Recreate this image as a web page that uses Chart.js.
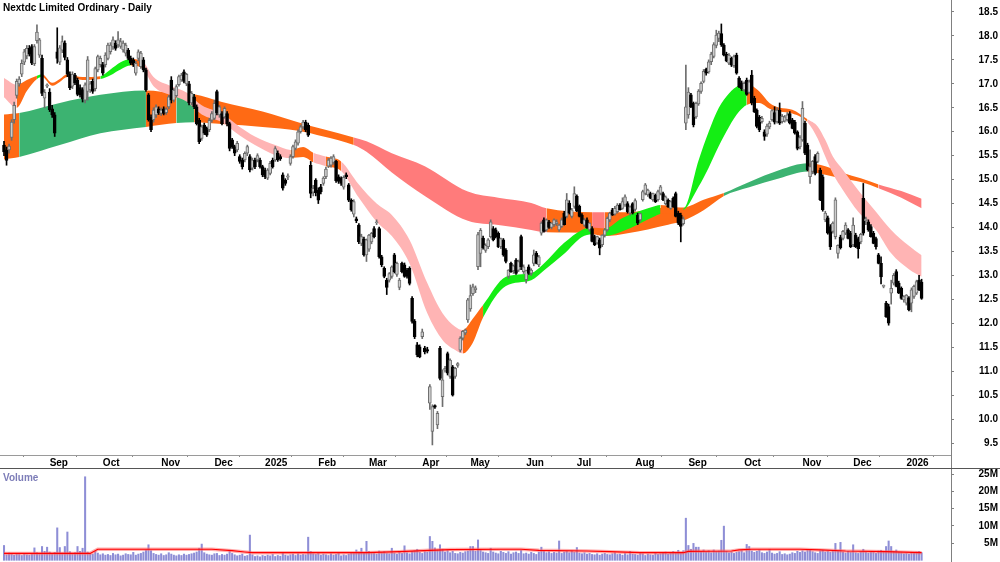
<!DOCTYPE html>
<html>
<head>
<meta charset="utf-8">
<script src="https://cdn.jsdelivr.net/npm/chart.js@4.4.1/dist/chart.umd.min.js"></script>
<style>
  body { margin: 0; background: #fff; width: 1000px; height: 562px; overflow: hidden; position: relative; font-family: "Liberation Sans", Arial, sans-serif; }
  .wrap { position: absolute; left: 0; width: 1000px; }
  .lbl { position: absolute; font-weight: bold; font-size: 10px; line-height: 12px; white-space: nowrap; }
</style>
</head>
<body>
<div class="wrap" style="top:0;height:469px"><canvas id="priceChart"></canvas></div>
<div class="wrap" style="top:469px;height:93px"><canvas id="volChart"></canvas></div>
<div class="lbl" style="left:3px;top:2px;color:#000">Nextdc Limited Ordinary - Daily</div>
<div class="lbl" style="left:3px;top:472px;color:#7d7db8">Volume</div>
<script>
// trading-day index axis: 0 = 7 Aug 2024, last = 9 Jan 2026
const monthStarts = [18, 39, 62, 83, 103, 124, 144, 165, 184, 206, 226, 249, 270, 292, 315, 335, 356];
const monthLabels = ['Sep', 'Oct', 'Nov', 'Dec', '2025', 'Feb', 'Mar', 'Apr', 'May', 'Jun', 'Jul', 'Aug', 'Sep', 'Oct', 'Nov', 'Dec', '2026'];
const priceTicks = [9.5, 10, 10.5, 11, 11.5, 12, 12.5, 13, 13.5, 14, 14.5, 15, 15.5, 16, 16.5, 17, 17.5, 18, 18.5];
const volTicks = [5, 10, 15, 20, 25];

// [open, high, low, close]
const ohlc = [
[15.72,15.80,15.50,15.58],[15.62,15.68,15.30,15.40],[15.62,15.74,15.55,15.70],[15.88,16.25,15.82,16.20],[16.25,16.62,16.18,16.55],[16.76,17.10,16.70,17.05],[17.00,17.15,16.95,17.10],[17.20,17.50,17.15,17.43],[17.45,17.72,17.40,17.67],[17.58,17.80,17.52,17.74],
[17.74,17.80,17.58,17.62],[17.78,17.82,17.40,17.43],[17.42,17.82,17.38,17.78],[17.90,18.23,17.85,18.08],[17.60,17.95,17.55,17.92],[17.53,17.60,16.75,16.80],[16.70,16.88,16.50,16.82],[16.95,17.00,16.92,16.98],[16.83,16.90,16.42,16.46],[16.48,16.55,16.30,16.35],
[16.35,16.40,15.90,15.97],[17.67,18.17,17.43,17.53],[17.45,17.80,17.40,17.75],[17.70,18.00,17.65,17.88],[17.85,17.90,17.50,17.55],[17.50,17.55,17.15,17.20],[17.20,17.25,16.88,16.92],[16.95,17.25,16.90,17.20],[17.18,17.22,16.98,17.02],[17.08,17.12,16.75,16.78],
[16.92,16.98,16.72,16.77],[16.88,16.92,16.62,16.68],[16.66,17.02,16.60,16.98],[16.84,17.57,16.66,17.50],[16.87,17.05,16.82,17.00],[17.05,17.10,16.80,16.84],[16.90,17.35,16.85,17.32],[17.29,17.60,17.25,17.57],[17.40,17.58,17.35,17.53],[17.40,17.45,17.18,17.22],
[17.40,17.65,17.35,17.60],[17.53,17.85,17.50,17.81],[17.67,17.86,17.62,17.81],[17.77,17.98,17.72,17.92],[17.85,17.90,17.70,17.74],[17.81,18.09,17.76,17.92],[17.78,17.95,17.74,17.88],[17.71,17.90,17.66,17.85],[17.64,17.85,17.58,17.81],[17.70,17.74,17.50,17.53],
[17.53,17.58,17.40,17.43],[17.50,17.54,17.36,17.40],[17.22,17.47,17.18,17.43],[17.53,17.71,17.48,17.67],[17.36,17.68,17.32,17.64],[17.50,17.55,17.25,17.29],[17.29,17.33,16.84,16.87],[16.77,16.80,16.22,16.25],[16.30,16.35,16.00,16.04],[16.25,16.50,16.20,16.45],
[16.35,16.56,16.30,16.52],[16.48,16.52,16.36,16.40],[16.38,16.50,16.34,16.45],[16.48,16.52,16.35,16.38],[16.40,16.50,16.36,16.47],[16.52,16.76,16.48,16.73],[17.08,17.15,16.60,16.66],[16.66,16.90,16.62,16.87],[16.75,16.98,16.72,16.94],[16.98,17.18,16.95,17.15],
[17.08,17.22,17.05,17.18],[17.25,17.29,17.02,17.05],[17.00,17.22,16.96,17.20],[17.00,17.05,16.56,16.60],[16.60,16.84,16.56,16.80],[16.73,16.78,16.48,16.52],[16.52,16.56,16.14,16.17],[16.24,16.28,15.75,15.79],[15.86,16.14,15.82,16.10],[16.14,16.18,15.94,15.97],
[16.07,16.10,15.90,15.93],[16.04,16.28,16.00,16.24],[16.24,16.42,16.20,16.38],[16.28,16.66,16.25,16.59],[16.84,16.87,16.35,16.39],[16.35,16.55,16.30,16.52],[16.38,16.42,16.14,16.17],[16.31,16.52,16.28,16.49],[16.38,16.42,16.12,16.17],[16.17,16.20,15.60,15.65],
[15.83,15.86,15.65,15.69],[15.69,15.72,15.50,15.55],[15.62,15.80,15.58,15.76],[15.48,15.52,15.34,15.38],[15.41,15.45,15.22,15.27],[15.41,15.58,15.37,15.55],[15.55,15.72,15.50,15.69],[15.48,15.52,15.16,15.20],[15.24,15.45,15.20,15.41],[15.41,15.45,15.23,15.27],
[15.41,15.54,15.37,15.50],[15.41,15.45,15.24,15.27],[15.27,15.30,15.06,15.10],[15.20,15.24,15.02,15.06],[15.03,15.23,15.00,15.20],[15.13,15.38,15.10,15.34],[15.41,15.45,15.24,15.27],[15.41,15.69,15.38,15.65],[15.55,15.60,15.38,15.41],[15.48,15.52,15.40,15.43],
[15.10,15.14,14.78,14.82],[14.99,15.02,14.88,14.92],[15.05,15.12,15.00,15.08],[15.34,15.52,15.30,15.48],[15.48,15.72,15.45,15.69],[15.65,15.83,15.62,15.79],[15.76,16.04,15.72,16.00],[16.00,16.14,15.97,16.10],[16.10,16.24,16.06,16.20],[16.20,16.24,16.00,16.04],
[16.14,16.18,15.90,15.93],[15.30,15.38,14.62,14.71],[14.74,14.88,14.66,14.82],[14.99,15.02,14.66,14.72],[14.78,14.83,14.50,14.57],[14.85,14.90,14.70,14.75],[14.92,15.06,14.88,15.03],[15.06,15.26,15.02,15.22],[15.28,15.44,15.25,15.41],[15.30,15.48,15.26,15.45],
[15.36,15.52,15.32,15.48],[15.38,15.40,14.94,14.98],[15.06,15.10,14.92,14.96],[15.03,15.06,14.88,14.92],[14.84,15.08,14.80,15.05],[15.10,15.14,15.02,15.06],[14.89,14.92,14.54,14.57],[14.57,14.60,14.34,14.37],[14.28,14.58,14.22,14.54],[14.18,14.22,14.10,14.14],
[14.05,14.08,13.66,13.70],[13.67,13.86,13.62,13.81],[13.76,13.80,13.40,13.43],[13.43,13.76,13.29,13.74],[13.55,13.86,13.50,13.84],[13.70,13.90,13.66,13.88],[13.98,14.02,13.78,13.81],[14.10,14.16,14.06,14.12],[13.98,14.01,13.36,13.39],[13.39,13.42,13.18,13.22],
[13.15,13.18,12.95,12.98],[12.90,12.94,12.60,12.75],[12.90,13.06,12.86,13.04],[12.98,13.20,12.94,13.18],[13.43,13.46,13.05,13.08],[13.02,13.28,12.98,13.25],[12.75,12.94,12.70,12.90],[13.25,13.28,13.05,13.08],[13.22,13.26,12.96,12.98],[13.11,13.15,12.94,12.98],
[13.15,13.18,12.80,12.83],[12.52,12.56,12.00,12.04],[12.04,12.08,11.68,11.72],[11.55,11.60,11.30,11.34],[11.51,11.55,11.28,11.30],[11.72,11.88,11.68,11.82],[11.48,11.52,11.36,11.40],[11.45,11.50,11.38,11.42],[10.33,10.72,10.20,10.68],[9.74,10.30,9.46,10.26],
[10.28,10.30,10.22,10.25],[9.88,10.16,9.80,10.12],[11.48,11.52,10.82,10.85],[10.47,11.03,10.26,10.82],[11.02,11.10,10.98,11.06],[11.37,11.40,10.92,10.96],[10.89,11.26,10.85,11.23],[11.09,11.12,10.48,10.50],[10.89,11.08,10.85,11.06],[11.12,11.18,11.08,11.16],
[11.44,11.72,11.40,11.69],[11.69,11.85,11.65,11.83],[11.80,11.88,11.76,11.86],[12.07,12.52,12.02,12.49],[12.30,12.80,12.25,12.58],[12.62,12.82,12.58,12.76],[12.70,12.78,12.64,12.74],[13.18,13.90,13.12,13.85],[13.46,13.98,13.18,13.94],[13.78,13.82,13.55,13.58],
[13.52,13.66,13.48,13.63],[13.60,13.77,13.56,13.74],[13.81,14.16,13.78,14.12],[13.98,14.02,13.72,13.74],[13.95,13.99,13.78,13.81],[13.88,13.91,13.58,13.60],[13.60,13.78,13.56,13.77],[13.74,13.77,13.40,13.43],[13.53,13.56,13.26,13.29],[12.98,13.12,12.94,13.11],
[13.25,13.28,13.06,13.08],[13.10,13.22,13.04,13.20],[13.32,13.35,13.02,13.04],[13.11,13.32,13.08,13.29],[13.81,13.84,13.12,13.18],[13.08,13.22,13.04,13.18],[12.91,13.11,12.84,13.10],[13.18,13.22,13.02,13.04],[13.04,13.14,13.00,13.11],[13.25,13.53,13.20,13.43],
[13.46,13.50,13.24,13.25],[13.22,13.42,13.18,13.39],[13.88,14.12,13.84,14.09],[14.16,14.20,13.90,13.92],[13.95,14.18,13.92,14.16],[14.12,14.15,13.98,14.00],[14.00,14.10,13.97,14.09],[14.06,14.18,14.02,14.16],[14.08,14.16,14.04,14.12],[13.95,14.07,13.92,14.05],
[14.02,14.20,14.00,14.16],[14.30,14.34,14.05,14.06],[14.23,14.71,14.20,14.58],[14.51,14.56,14.28,14.30],[14.23,14.40,14.20,14.37],[14.44,14.85,14.40,14.71],[14.65,14.68,14.33,14.34],[14.44,14.47,14.22,14.23],[14.26,14.29,14.08,14.09],[14.05,14.19,14.02,14.16],
[14.16,14.20,13.98,13.99],[13.95,14.10,13.92,14.09],[13.98,14.02,13.70,13.71],[13.81,13.84,13.62,13.64],[13.68,13.82,13.65,13.81],[13.74,13.78,13.43,13.57],[13.64,13.85,13.60,13.84],[13.84,13.98,13.80,13.95],[13.95,14.22,13.92,14.19],[14.16,14.32,14.12,14.30],
[14.37,14.40,14.25,14.26],[14.28,14.44,14.26,14.40],[14.33,14.50,14.30,14.47],[14.47,14.50,14.36,14.37],[14.40,14.62,14.38,14.54],[14.47,14.68,14.44,14.64],[14.50,14.54,14.30,14.33],[14.30,14.45,14.26,14.43],[14.50,14.52,14.28,14.30],[14.38,14.60,14.34,14.56],
[14.26,14.30,14.06,14.09],[14.16,14.30,14.12,14.29],[14.58,14.78,14.55,14.75],[14.71,14.92,14.68,14.89],[14.68,14.80,14.65,14.78],[14.71,14.74,14.60,14.61],[14.58,14.72,14.55,14.71],[14.67,14.70,14.52,14.54],[14.58,14.78,14.55,14.75],[14.71,14.88,14.68,14.85],
[14.71,14.74,14.56,14.58],[14.50,14.66,14.47,14.64],[14.57,14.60,14.42,14.43],[14.40,14.56,14.38,14.54],[14.61,14.64,14.42,14.43],[14.71,14.74,14.22,14.23],[14.30,14.34,14.06,14.09],[14.26,14.30,13.70,14.02],[14.08,14.22,14.05,14.18],[16.18,17.39,16.04,16.52],
[16.35,16.92,16.28,16.83],[16.77,16.80,16.50,16.52],[16.59,16.62,16.10,16.14],[16.31,16.62,16.28,16.59],[16.58,16.88,16.55,16.85],[16.84,17.04,16.80,17.01],[17.05,17.30,17.02,17.26],[17.30,17.33,17.18,17.22],[17.25,17.50,17.22,17.46],[17.46,17.66,17.40,17.62],
[17.57,17.86,17.54,17.82],[17.80,18.12,17.75,18.02],[17.95,18.10,17.88,18.06],[18.05,18.25,17.78,17.81],[17.81,17.84,17.58,17.60],[17.62,17.66,17.46,17.48],[17.43,17.63,17.40,17.60],[17.53,17.56,17.36,17.39],[17.38,17.60,17.34,17.57],[17.60,17.64,17.20,17.22],
[17.12,17.15,16.92,16.94],[17.02,17.06,16.86,16.90],[16.87,17.04,16.84,17.01],[17.08,17.12,16.76,16.78],[16.82,17.08,16.80,17.04],[17.18,17.28,16.56,16.60],[16.70,16.74,16.40,16.42],[16.45,16.48,16.08,16.11],[16.30,16.34,16.00,16.04],[16.21,16.32,16.18,16.28],
[16.00,16.04,15.82,15.90],[15.95,16.16,15.90,16.12],[16.10,16.22,16.06,16.18],[16.25,16.46,16.22,16.44],[16.40,16.52,16.16,16.20],[16.21,16.50,16.18,16.45],[16.45,16.60,16.15,16.18],[16.21,16.36,16.18,16.32],[16.22,16.34,16.20,16.31],[16.25,16.40,16.22,16.35],
[16.38,16.42,16.16,16.18],[16.25,16.28,16.06,16.07],[16.20,16.24,15.95,15.97],[16.00,16.02,15.62,15.65],[15.68,15.92,15.64,15.88],[15.83,16.63,15.80,16.49],[16.18,16.22,15.52,15.55],[15.72,15.76,15.18,15.20],[15.06,15.62,14.92,15.27],[15.17,15.40,15.12,15.38],
[15.48,15.52,15.10,15.13],[15.38,15.58,15.35,15.55],[15.20,15.24,14.56,14.58],[15.06,15.10,14.34,14.37],[14.16,14.34,14.12,14.30],[14.20,14.24,13.86,13.88],[14.02,14.06,13.54,13.60],[13.92,14.12,13.88,14.09],[13.81,14.62,13.76,14.58],[13.46,13.64,13.36,13.63],
[13.80,13.84,13.55,13.58],[13.77,13.94,13.74,13.92],[13.88,14.10,13.85,14.05],[13.95,13.98,13.76,13.77],[13.88,13.92,13.58,13.60],[13.64,14.20,13.60,14.05],[13.84,13.88,13.58,13.60],[13.77,13.80,13.36,13.56],[13.70,13.88,13.66,13.86],[14.61,14.92,13.84,13.88],
[14.14,14.22,14.06,14.18],[14.12,14.16,13.92,13.95],[14.02,14.06,13.80,13.81],[13.88,13.92,13.66,13.67],[13.77,13.80,13.55,13.60],[13.43,13.46,13.24,13.25],[13.25,13.39,12.82,12.97],[12.77,12.80,12.74,12.78],[12.42,12.46,12.12,12.14],[12.35,12.40,11.96,12.00],
[12.63,12.90,12.40,12.73],[12.84,13.04,12.80,13.00],[13.08,13.12,12.76,12.77],[12.84,12.88,12.62,12.63],[12.73,12.76,12.50,12.52],[12.49,12.58,12.44,12.56],[12.42,12.60,12.38,12.59],[12.53,12.56,12.26,12.28],[12.42,12.74,12.24,12.70],[12.56,12.80,12.52,12.77],
[12.63,12.90,12.60,12.87],[12.90,13.00,12.68,12.70],[12.86,12.92,12.50,12.52]
];

// volume, millions
const volume = [
4.3,1.6,2.1,1.8,1.5,2.0,1.7,1.4,1.9,1.6, 1.5,1.8,3.6,2.2,1.7,4.0,2.6,3.8,2.4,1.9,
2.3,9.4,3.7,2.1,4.0,8.2,2.5,1.8,2.2,4.0, 2.6,3.5,24.2,2.4,2.0,1.8,2.6,2.1,1.6,1.9,
1.5,1.7,1.4,2.0,1.6,1.8,1.3,1.5,1.9,1.7, 1.6,2.3,1.5,1.8,2.0,2.4,3.0,4.5,2.8,2.0,
1.7,1.5,1.9,1.4,1.6,2.2,1.8,1.5,1.3,1.6, 1.4,1.8,1.5,1.7,1.9,2.1,2.4,3.5,4.7,2.2,
1.8,1.6,1.5,1.9,2.0,1.4,1.7,1.5,1.8,2.6, 2.0,1.6,1.3,1.5,1.8,1.2,1.4,7.3,1.6,1.1,
1.3,1.0,1.4,1.2,1.5,1.3,1.7,1.1,1.4,1.2, 2.1,1.5,1.3,1.6,1.8,1.4,1.9,1.5,1.7,1.6,
6.7,2.6,1.9,1.7,2.0,1.5,1.8,1.6,1.4,1.9, 1.5,1.7,2.0,1.3,1.6,1.4,1.8,2.2,2.0,3.0,
2.4,3.5,2.1,5.5,2.6,2.0,2.3,1.8,2.7,2.2, 2.5,2.0,1.9,3.5,2.1,1.8,2.4,2.0,4.2,2.2,
1.9,2.6,2.8,3.2,2.3,2.0,2.5,2.4,6.9,5.5, 3.6,3.0,4.5,3.2,2.4,2.8,2.2,2.6,2.0,1.9,
2.3,2.1,2.5,2.7,4.0,4.0,2.6,5.9,3.1,2.4, 2.2,2.0,3.5,2.4,2.1,1.9,2.6,2.3,2.0,2.5,
1.8,2.2,2.4,2.0,2.9,1.9,2.1,1.8,2.3,2.0, 1.7,2.4,3.8,2.6,2.2,2.5,2.0,2.3,2.1,5.6,
2.0,2.4,2.6,2.2,2.7,2.3,3.7,2.1,1.9,2.2, 1.8,2.0,1.7,1.6,1.9,1.5,1.8,2.0,1.7,1.6,
1.9,2.2,1.7,1.8,1.5,2.0,1.6,2.6,1.8,1.7, 1.5,2.0,1.9,1.4,1.8,1.6,1.5,2.1,1.7,1.9,
2.2,2.4,1.8,2.0,2.6,2.3,2.9,2.2,2.8,12.2, 4.3,3.2,4.9,3.8,3.8,2.6,3.0,2.4,2.8,2.2,
3.0,2.5,2.7,5.8,9.9,2.6,2.2,2.4,2.0,2.3, 2.5,2.8,2.2,4.6,4.0,2.7,2.3,2.6,3.0,2.2,
2.0,2.4,3.2,2.1,1.8,2.0,2.5,1.7,1.9,1.6, 1.8,2.2,2.0,2.6,2.3,2.8,2.4,2.9,3.0,2.5,
2.2,2.0,2.7,2.9,2.4,2.6,2.3,2.8,4.9,2.6, 5.2,2.4,2.1,2.6,2.3,4.5,2.2,2.0,2.5,3.2,
2.4,2.1,2.3,2.6,2.0,2.7,2.9,2.4,4.0,5.6, 4.0,2.6,3.0,2.4,2.2,1.9,2.0,1.8,2.3,2.1,
2.4,2.6,2.2
];

// volume average line
const vmaX = [0, 34, 37, 82, 90, 95, 98, 143, 156, 168, 176, 196, 204, 211, 230, 239, 251, 268, 270, 287, 290, 295, 314, 322, 332, 348, 362];
const vmaY = [2.0, 2.0, 3.2, 3.2, 2.8, 2.4, 2.2, 2.2, 2.5, 2.9, 3.1, 3.2, 3.2, 2.9, 2.7, 2.5, 2.2, 2.2, 2.6, 2.7, 3.0, 3.2, 3.2, 3.0, 2.7, 2.5, 2.2];

const PINK = '#ffb4b4', ORANGE = '#ff6a14', LIME = '#14ee14', SEA = '#3cb371', SALMON = '#ff7b7b';

// short-term ribbon edges
const shortX = [0,5,9,13,15,19,22,25,31,38,42,46,50,55,59,66,72,78,86,93,99,107,113,118,122,127,133,140,147,153,160,167,173,178,181,185,189,198,208,213,221,228,232,237,244,257,259,268,274,278,282,286,290,293,298,302,306,311,317,321,324,327,331,337,344,350,357,362];
const shortTop = [17.12,16.98,17.08,17.17,17.20,17.02,17.10,17.20,17.14,17.16,17.30,17.45,17.52,17.45,17.14,16.95,16.82,16.55,16.38,16.10,15.90,15.72,15.62,15.68,15.56,15.48,15.38,14.90,14.50,14.26,13.74,12.84,12.21,11.93,11.86,12.10,12.38,12.97,13.05,13.25,13.68,13.95,14.00,13.98,14.20,14.45,14.47,14.40,15.40,16.00,16.50,16.80,16.97,17.00,16.84,16.60,16.50,16.46,16.26,16.11,15.83,15.48,15.20,14.78,14.33,13.95,13.62,13.42];
const shortBot = [16.72,16.50,16.85,17.10,17.14,16.96,17.04,17.14,17.08,17.10,17.18,17.30,17.38,17.30,16.95,16.76,16.63,16.36,16.20,15.92,15.72,15.51,15.45,15.47,15.36,15.28,15.18,14.62,14.12,13.82,13.25,12.21,11.65,11.44,11.37,11.60,12.12,12.78,12.90,13.10,13.45,13.80,13.86,13.82,13.92,14.24,14.28,14.36,14.85,15.25,15.70,16.10,16.42,16.56,16.60,16.48,16.42,16.38,16.20,15.86,15.48,15.13,14.78,14.33,13.95,13.46,13.13,12.97];
const shortCol = [PINK,ORANGE,ORANGE,LIME,ORANGE,ORANGE,ORANGE,ORANGE,ORANGE,LIME,LIME,LIME,ORANGE,PINK,PINK,PINK,PINK,PINK,PINK,PINK,PINK,PINK,ORANGE,ORANGE,PINK,ORANGE,PINK,PINK,PINK,PINK,PINK,PINK,PINK,PINK,ORANGE,ORANGE,LIME,LIME,LIME,LIME,LIME,LIME,ORANGE,LIME,LIME,LIME,ORANGE,LIME,LIME,LIME,LIME,LIME,LIME,ORANGE,ORANGE,ORANGE,ORANGE,ORANGE,PINK,PINK,PINK,PINK,PINK,PINK,PINK,PINK,PINK,PINK];

// long-term ribbon edges
const longX = [0,6,22,38,56,68,75,86,102,116,126,138,143,153,166,183,195,208,214,232,237,246,262,268,276,284,294,306,317,324,331,338,345,354,362];
const longTop = [16.36,16.39,16.60,16.77,16.86,16.80,16.78,16.62,16.42,16.20,16.05,15.88,15.80,15.55,15.28,14.75,14.62,14.51,14.40,14.32,14.32,14.32,14.42,14.42,14.58,14.72,14.95,15.20,15.34,15.28,15.14,15.03,14.90,14.76,14.60];
const longBot = [15.42,15.47,15.72,15.97,16.10,16.18,16.20,16.16,16.10,16.02,15.90,15.72,15.58,15.15,14.66,14.14,14.05,13.95,13.90,13.88,13.82,13.88,14.06,14.14,14.36,14.66,14.84,15.03,15.17,15.10,15.02,14.95,14.82,14.62,14.40];
const longCol = [ORANGE,SEA,SEA,SEA,ORANGE,SEA,ORANGE,ORANGE,ORANGE,ORANGE,ORANGE,SALMON,SALMON,SALMON,SALMON,SALMON,SALMON,SALMON,ORANGE,SALMON,ORANGE,ORANGE,ORANGE,ORANGE,ORANGE,SEA,SEA,SEA,ORANGE,ORANGE,ORANGE,ORANGE,SALMON,SALMON,SALMON];

Chart.defaults.font.family = '"Liberation Sans", Arial, sans-serif';
Chart.defaults.font.size = 10;
Chart.defaults.font.weight = 'bold';
Chart.defaults.color = '#000';

const X_MIN = -1.58, X_MAX = 373.6;
const isUp = ohlc.map(c => c[3] >= c[0]);

function ribbon(xs, top, bot, cols, order) {
    const base = { type: 'line', borderColor: 'transparent', borderWidth: 0, pointRadius: 0, cubicInterpolationMode: 'monotone', order: order };
    return [
        Object.assign({}, base, {
            data: xs.map((x, k) => ({ x: x, y: top[k] })),
            fill: '+1',
            backgroundColor: cols[0],
            segment: { backgroundColor: c => cols[c.p0DataIndex] }
        }),
        Object.assign({}, base, {
            data: xs.map((x, k) => ({ x: x, y: bot[k] })),
            fill: false
        })
    ];
}

function fixAxis(size, horiz) {
    return function (s) {
        if (horiz) s.height = size; else s.width = size;
        s.paddingTop = 0; s.paddingBottom = 0; s.paddingLeft = 0; s.paddingRight = 0;
    };
}

const frame = {
    id: 'frame',
    afterDraw(chart) {
        const ctx = chart.ctx, a = chart.chartArea;
        ctx.save();
        ctx.lineWidth = 1;
        ctx.strokeStyle = '#808080';
        ctx.beginPath();
        ctx.moveTo(Math.round(a.right) + 0.5, a.bottom);
        ctx.lineTo(Math.round(a.right) + 0.5, chart.height);
        ctx.stroke();
        ctx.strokeStyle = '#555';
        ctx.beginPath();
        ctx.moveTo(0, chart.height - 0.5);
        ctx.lineTo(chart.width, chart.height - 0.5);
        ctx.stroke();
        ctx.restore();
    }
};

new Chart(document.getElementById('priceChart'), {
    type: 'bar',
    data: {
        datasets: [
            ...ribbon(longX, longTop, longBot, longCol, 20),
            ...ribbon(shortX, shortTop, shortBot, shortCol, 10),
            {
                type: 'bar',
                data: ohlc.map((c, i) => ({ x: i, y: [c[2], c[1]] })),
                backgroundColor: isUp.map(u => u ? '#6e6e6e' : '#000'),
                barThickness: 1,
                grouped: false,
                order: 2
            },
            {
                type: 'bar',
                data: ohlc.map((c, i) => ({ x: i, y: [c[0], c[3]] })),
                backgroundColor: isUp.map(u => u ? '#cdcdcd' : '#000'),
                borderColor: isUp.map(u => u ? '#6e6e6e' : '#000'),
                borderWidth: 1,
                borderSkipped: false,
                barThickness: 3,
                minBarLength: 1,
                grouped: false,
                order: 1
            }
        ]
    },
    options: {
        responsive: true,
        maintainAspectRatio: false,
        animation: false,
        devicePixelRatio: 1,
        events: [],
        layout: { padding: { left: 0, right: 2, top: 0, bottom: 0 } },
        plugins: { legend: { display: false }, tooltip: { enabled: false } },
        scales: {
            x: {
                type: 'linear',
                min: X_MIN,
                max: X_MAX,
                offset: false,
                afterBuildTicks: s => { s.ticks = monthStarts.map(v => ({ value: v })); },
                afterFit: fixAxis(14, true),
                ticks: {
                    callback: v => monthLabels[monthStarts.indexOf(v)],
                    align: 'start',
                    autoSkip: false,
                    maxRotation: 0,
                    minRotation: 0,
                    padding: 0
                },
                grid: { drawOnChartArea: false, drawTicks: true, tickLength: 2, color: '#8a8a8a' },
                border: { display: true, color: '#9a9a9a' }
            },
            y: {
                position: 'right',
                min: 9.25,
                max: 18.75,
                afterBuildTicks: s => { s.ticks = priceTicks.map(v => ({ value: v })); },
                afterFit: fixAxis(47, false),
                ticks: { callback: v => v.toFixed(1), crossAlign: 'far', autoSkip: false, padding: 2 },
                grid: { drawOnChartArea: false, drawTicks: true, tickLength: 3, color: '#808080' },
                border: { display: true, color: '#808080' }
            }
        }
    },
    plugins: [frame]
});

new Chart(document.getElementById('volChart'), {
    type: 'bar',
    data: {
        datasets: [
            {
                type: 'line',
                data: vmaX.map((x, k) => ({ x: x, y: vmaY[k] })),
                borderColor: '#ff0000',
                borderWidth: 1.2,
                pointRadius: 0,
                fill: false,
                order: 1
            },
            {
                type: 'line',
                data: vmaX.map((x, k) => ({ x: x, y: vmaY[k] })),
                borderColor: 'rgba(255,110,110,0.55)',
                borderWidth: 3.5,
                pointRadius: 0,
                fill: false,
                order: 2
            },
            {
                type: 'bar',
                data: volume.map((v, i) => ({ x: i, y: v })),
                backgroundColor: '#8e8ed6',
                barThickness: 1.4,
                grouped: false,
                order: 3
            }
        ]
    },
    options: {
        responsive: true,
        maintainAspectRatio: false,
        animation: false,
        devicePixelRatio: 1,
        events: [],
        layout: { padding: { left: 0, right: 2, top: 0, bottom: 0 } },
        plugins: { legend: { display: false }, tooltip: { enabled: false } },
        scales: {
            x: { type: 'linear', min: X_MIN, max: X_MAX, offset: false, display: false },
            y: {
                position: 'right',
                min: -0.49,
                max: 26.45,
                afterBuildTicks: s => { s.ticks = volTicks.map(v => ({ value: v })); },
                afterFit: fixAxis(47, false),
                ticks: { callback: v => v + 'M', crossAlign: 'far', autoSkip: false, padding: 2 },
                grid: { drawOnChartArea: false, drawTicks: true, tickLength: 3, color: '#808080' },
                border: { display: true, color: '#808080' }
            }
        }
    }
});
</script>
</body>
</html>
